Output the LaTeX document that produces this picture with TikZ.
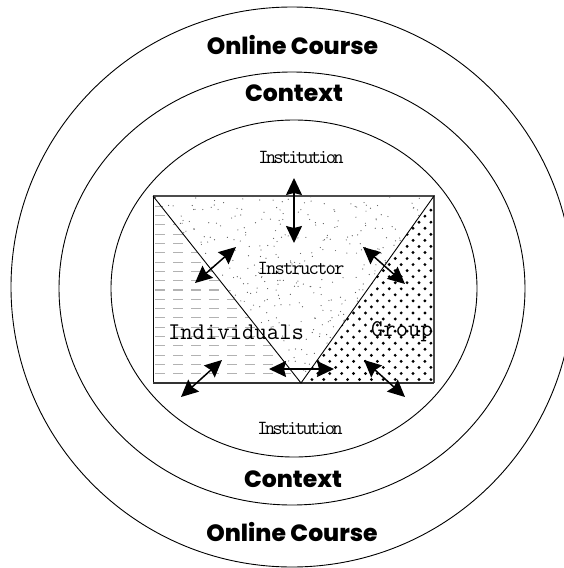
\documentclass[tikz,border=0pt]{standalone}
\usepackage{fontspec}
\newfontfamily\headfont{Poppins ExtraBold}
\newfontfamily\slabfont[LetterSpace=-14]{Latin Modern Mono}
\newfontfamily\slabwide[LetterSpace=-9]{Latin Modern Mono}
\newfontfamily\monofont{Latin Modern Mono}
\usetikzlibrary{arrows.meta}
\tikzset{
 ring/.style={draw=black,line width=0.9pt},
 headlabel/.style={font=\headfont\fontsize{23.5}{25}\selectfont,inner sep=0pt},
 slab/.style={font=\slabfont\fontsize{20}{22}\selectfont,inner sep=0pt},
 slabw/.style={font=\slabwide\fontsize{20}{22}\selectfont,inner sep=0pt},
 mono/.style={font=\monofont\fontsize{24}{26}\selectfont,inner sep=0pt},
 twoway/.style={line width=1.5pt,{Stealth[length=17pt,width=16pt,inset=2pt]}-{Stealth[length=17pt,width=16pt,inset=2pt]}},
 edge/.style={draw=black,line width=0.9pt},
}
\pgfmathsetseed{4711}
\begin{document}
\begin{tikzpicture}[x=1pt,y=-1pt]
\useasboundingbox (0,0) rectangle (564,568);
% rings
\draw[ring] (292,287) ellipse [x radius=281, y radius=280];
\draw[ring] (292,288.5) ellipse [x radius=233, y radius=216.5];
\draw[ring] (294,288.5) ellipse [x radius=183, y radius=168.5];
% corner points
\coordinate (tl) at (153,196);
\coordinate (tr) at (434,196);
\coordinate (bl) at (153,383);
\coordinate (br) at (434,383);
\coordinate (ap) at (301,383);
% fills
\begin{scope}
\clip (tl) -- (tr) -- (ap) -- cycle;
\foreach \i in {1,...,640}{
  \pgfmathsetmacro{\px}{153+281*rnd}
  \pgfmathsetmacro{\py}{196+187*rnd}
  \fill[black!65] (\px,\py) circle (0.6);
}
\end{scope}
\begin{scope}
\clip (tl) -- (ap) -- (bl) -- cycle;
\foreach \r in {0,...,20}{
  \draw[black!30,line width=1.1pt,dash pattern=on 10pt off 8pt] (155,{197+9.3*\r}) -- (300,{197+9.3*\r});
}
\end{scope}
\begin{scope}
\clip (tr) -- (br) -- (ap) -- cycle;
\foreach \r in {0,...,30}{
 \foreach \c in {0,...,25}{
  \pgfmathsetmacro{\px}{300+11.9*\c+mod(\r,2)*5.95}
  \pgfmathsetmacro{\py}{198+6.05*\r}
  \fill[black] (\px,\py) circle (1.6);
 }
}
\end{scope}
\draw[black!70,line width=1.4pt] (tl) -- (tr) -- (br);
\draw[edge] (tl) -- (bl);
\draw[black!80,line width=1.2pt] (bl) -- (br);
\draw[edge] (tl) -- (ap) -- (tr);
% labels
\node[headlabel] (oc1) at (292.5,45) {Online Course};
\node[headlabel] (ct1) at (294,93) {Context};
\node[slab] (in1) at (301,157) {Institution};
\node[slabw] (is) at (301,268) {Instructor};
\node[mono] (ind) at (236,332) {Individuals};
\node[mono] (gr) at (402,332) {Group};
\node[slab] (in2) at (300,428) {Institution};
\node[headlabel] (ct2) at (293,479) {Context};
\node[headlabel] (oc2) at (292,532) {Online Course};
% arrows
\coordinate (a1s) at (294,178); \coordinate (a1e) at (294,243);
\coordinate (a2s) at (236,247); \coordinate (a2e) at (195,283);
\coordinate (a3s) at (363,247); \coordinate (a3e) at (405,284);
\coordinate (a4s) at (222,360); \coordinate (a4e) at (181,397);
\coordinate (a5s) at (269,369); \coordinate (a5e) at (334,369);
\coordinate (a6s) at (364,360); \coordinate (a6e) at (405,397);
\draw[twoway] (a1s) -- (a1e);
\draw[twoway] (a2s) -- (a2e);
\draw[twoway] (a3s) -- (a3e);
\draw[twoway] (a4s) -- (a4e);
\draw[twoway] (a5s) -- (a5e);
\draw[twoway] (a6s) -- (a6e);
\end{tikzpicture}
\end{document}
